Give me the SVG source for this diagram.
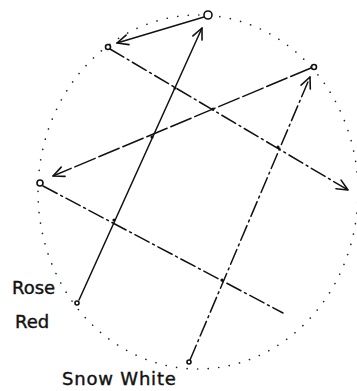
<svg xmlns="http://www.w3.org/2000/svg" width="357" height="391" viewBox="0 0 357 391">
  <style>
    .ln { stroke: #111; stroke-width: 1.5; fill: none; stroke-linecap: round; }
    .dd { stroke-dasharray: 16 4 2 4; }
    .ds { stroke-dasharray: 22 4; }
    .nd { stroke: #111; stroke-width: 1.6; fill: #fff; }
    .dot { fill: #111; }
    .lbl { font-family: "DejaVu Sans", "Liberation Sans", sans-serif; font-size: 18px; fill: #111; stroke: #111; stroke-width: 0.4; }
  </style>
  <defs>
    <marker id="arr" viewBox="-12 -6 14 12" refX="0" refY="0" markerWidth="14" markerHeight="12" markerUnits="userSpaceOnUse" orient="auto">
      <path d="M-11,-5 L0,0 L-11,5" fill="none" stroke="#111" stroke-width="1.6" stroke-linecap="round" stroke-linejoin="round"/>
    </marker>
  </defs>
  <rect width="357" height="391" fill="#fff"/>
  <ellipse cx="198" cy="192" rx="160" ry="177" fill="none" stroke="#222" stroke-width="1.6" stroke-linecap="round" stroke-dasharray="0.1 10.5"/>
  <g id="connectors">
    <path class="ln" d="M204,17 L117,43" marker-end="url(#arr)"/>
    <path class="ln" d="M79,300 L202,28" marker-end="url(#arr)"/>
    <path class="ln dd" d="M110,49 L348,190" marker-end="url(#arr)"/>
    <path class="ln ds" d="M311,68 L53,176" marker-end="url(#arr)"/>
    <path class="ln dd" d="M43,186 L283,313"/>
    <path class="ln dd" d="M190,360 L310,77" marker-end="url(#arr)"/>
    <circle class="dot" cx="175" cy="88" r="1.6"/>
    <circle class="dot" cx="213" cy="109" r="1.6"/>
    <circle class="dot" cx="152" cy="137" r="1.6"/>
    <circle class="dot" cx="278" cy="147" r="1.6"/>
    <circle class="dot" cx="114" cy="220" r="1.6"/>
    <circle class="dot" cx="222" cy="280" r="1.6"/>
  </g>
  <g id="node-top"><circle class="nd" cx="208" cy="15" r="4"/></g>
  <g id="node-upper-left"><circle class="nd" cx="108" cy="47" r="2.5" stroke-width="2"/></g>
  <g id="node-right"><circle class="nd" cx="314" cy="67" r="2.5"/></g>
  <g id="node-left"><circle class="nd" cx="40" cy="183" r="3"/></g>
  <g id="node-rose-red">
    <circle class="nd" cx="77" cy="303" r="2"/>
    <text class="lbl" x="12" y="294">Rose</text>
    <text class="lbl" x="15" y="328">Red</text>
  </g>
  <g id="node-snow-white">
    <circle class="nd" cx="189" cy="362" r="2"/>
    <text class="lbl" x="62" y="385" font-size="19" letter-spacing="0.8">Snow White</text>
  </g>
</svg>
